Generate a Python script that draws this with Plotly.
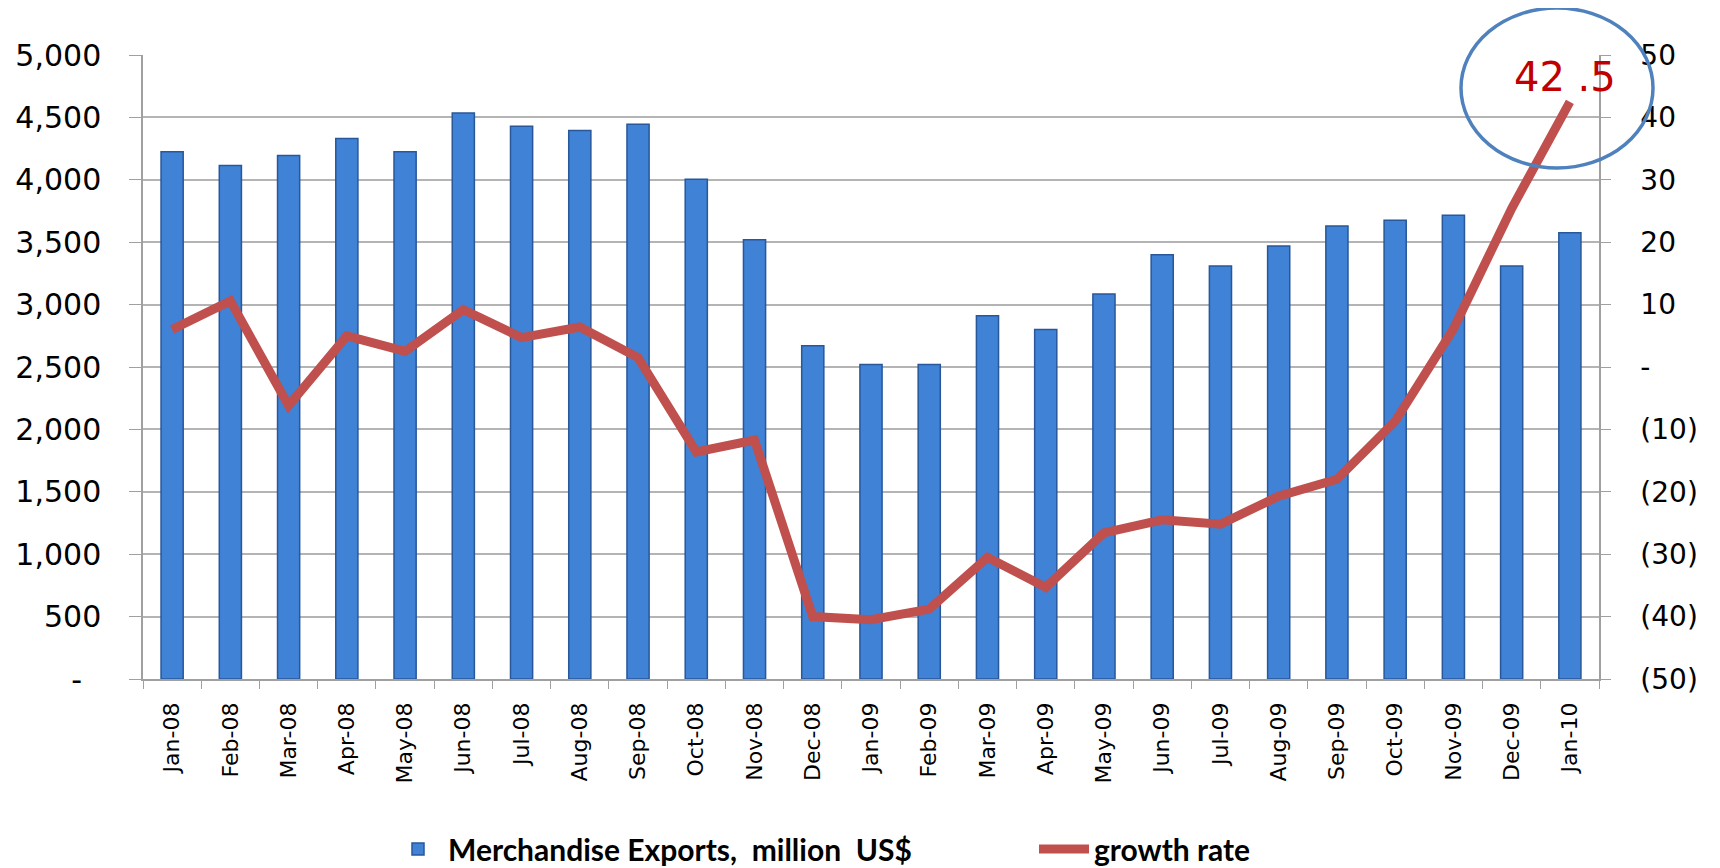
import plotly.graph_objects as go

months = ["Jan-08", "Feb-08", "Mar-08", "Apr-08", "May-08", "Jun-08", "Jul-08", "Aug-08",
          "Sep-08", "Oct-08", "Nov-08", "Dec-08", "Jan-09", "Feb-09", "Mar-09", "Apr-09",
          "May-09", "Jun-09", "Jul-09", "Aug-09", "Sep-09", "Oct-09", "Nov-09", "Dec-09", "Jan-10"]
exports = [4225, 4115, 4195, 4330, 4225, 4535, 4430, 4395, 4445, 4005, 3520, 2670, 2520,
           2520, 2910, 2800, 3085, 3400, 3310, 3470, 3630, 3675, 3715, 3310, 3575]
growth = [6.0, 10.6, -6.2, 5.0, 2.5, 9.2, 4.7, 6.4, 1.5, -13.6, -11.7, -40.0, -40.5,
          -38.8, -30.5, -35.3, -26.6, -24.5, -25.2, -20.7, -18.0, -8.7, 6.1, 25.4, 42.5]

left_tickvals = [0, 500, 1000, 1500, 2000, 2500, 3000, 3500, 4000, 4500, 5000]
left_ticktext = ["-\u00a0\u00a0", "500", "1,000", "1,500", "2,000", "2,500",
                 "3,000", "3,500", "4,000", "4,500", "5,000"]
right_tickvals = [-50, -40, -30, -20, -10, 0, 10, 20, 30, 40, 50]
right_ticktext = ["(50)", "(40)", "(30)", "(20)", "(10)", "-", "10", "20", "30", "40", "50"]

# page has an 8px body margin: figure is drawn 8px right/down of the window origin
OFF = 8
W, H = 1720 - OFF, 868 - OFF
plot_left, plot_right, plot_top, plot_bottom = 143, 1599, 55, 679   # page pixels
ml, mr = plot_left - OFF, W - (plot_right - OFF)
mt, mb = plot_top - OFF, H - (plot_bottom - OFF)
pw, ph = W - ml - mr, H - mt - mb


def px(x):
    return (x - OFF - ml) / pw


def py(y):
    return (H - mb - (y - OFF)) / ph


fig = go.Figure()
fig.add_trace(go.Bar(
    x=months, y=exports, name="Merchandise Exports,\u00a0\u00a0million\u00a0\u00a0US$",
    marker=dict(color="#3F82D6", line=dict(color="#28579A", width=1.5)),
    yaxis="y", legend="legend",
))
fig.add_trace(go.Scatter(
    x=months, y=growth, name="growth rate", mode="lines",
    line=dict(color="#C0504D", width=9),
    yaxis="y2", legend="legend2",
))

legend_font = dict(family="Lato", size=30, color="#000000", weight="bold")
legend_y = (H - (849 - OFF)) / H
fig.update_layout(
    width=W, height=H,
    margin=dict(l=ml, r=mr, t=mt, b=mb, autoexpand=False),
    paper_bgcolor="white", plot_bgcolor="white",
    bargap=0.62,
    showlegend=True,
    xaxis=dict(
        type="category", range=[-0.5, len(months) - 0.5], showgrid=False, automargin=False,
        showline=True, linecolor="#A0A0A0", linewidth=1.5,
        ticks="outside", ticklen=8, tickcolor="#A0A0A0", tickson="boundaries",
        ticklabelstandoff=13,
        tickangle=-90, tickfont=dict(family="DejaVu Sans", size=22, color="#000000"),
    ),
    yaxis=dict(
        range=[0, 5000], tickvals=left_tickvals, ticktext=left_ticktext, automargin=False,
        showgrid=True, gridcolor="#B4B4B4", gridwidth=1.5,
        showline=True, linecolor="#A0A0A0", linewidth=1.5,
        ticks="outside", ticklen=12, tickcolor="#A0A0A0", ticklabelstandoff=22,
        tickfont=dict(family="DejaVu Sans", size=30, color="#000000"), zeroline=False,
    ),
    yaxis2=dict(
        range=[-50, 50], tickvals=right_tickvals, ticktext=right_ticktext, automargin=False,
        overlaying="y", side="right", showgrid=False,
        showline=True, linecolor="#A0A0A0", linewidth=1.5,
        ticks="outside", ticklen=10, tickcolor="#A0A0A0", ticklabelstandoff=24,
        tickfont=dict(family="DejaVu Sans", size=28, color="#000000"), zeroline=False,
    ),
    legend=dict(
        x=px(388), y=legend_y, xref="paper", yref="container",
        xanchor="left", yanchor="middle",
        orientation="h", itemwidth=50, bgcolor="rgba(0,0,0,0)", font=legend_font,
    ),
    legend2=dict(
        x=px(1034), y=legend_y, xref="paper", yref="container",
        xanchor="left", yanchor="middle",
        orientation="h", itemwidth=50, bgcolor="rgba(0,0,0,0)", font=legend_font,
    ),
    annotations=[dict(
        x=months[-1], y=growth[-1], xref="x", yref="y2",
        text=str(growth[-1]).replace(".", " ."), showarrow=False,
        xshift=-5, yshift=25,
        font=dict(family="DejaVu Sans", size=40, color="#C00000"),
    )],
    shapes=[dict(
        type="circle", xref="paper", yref="paper",
        x0=px(1461), x1=px(1653), y0=py(168), y1=py(8),
        line=dict(color="#4F81BD", width=3.5), layer="above",
    )],
)

fig.write_html("out.html")
